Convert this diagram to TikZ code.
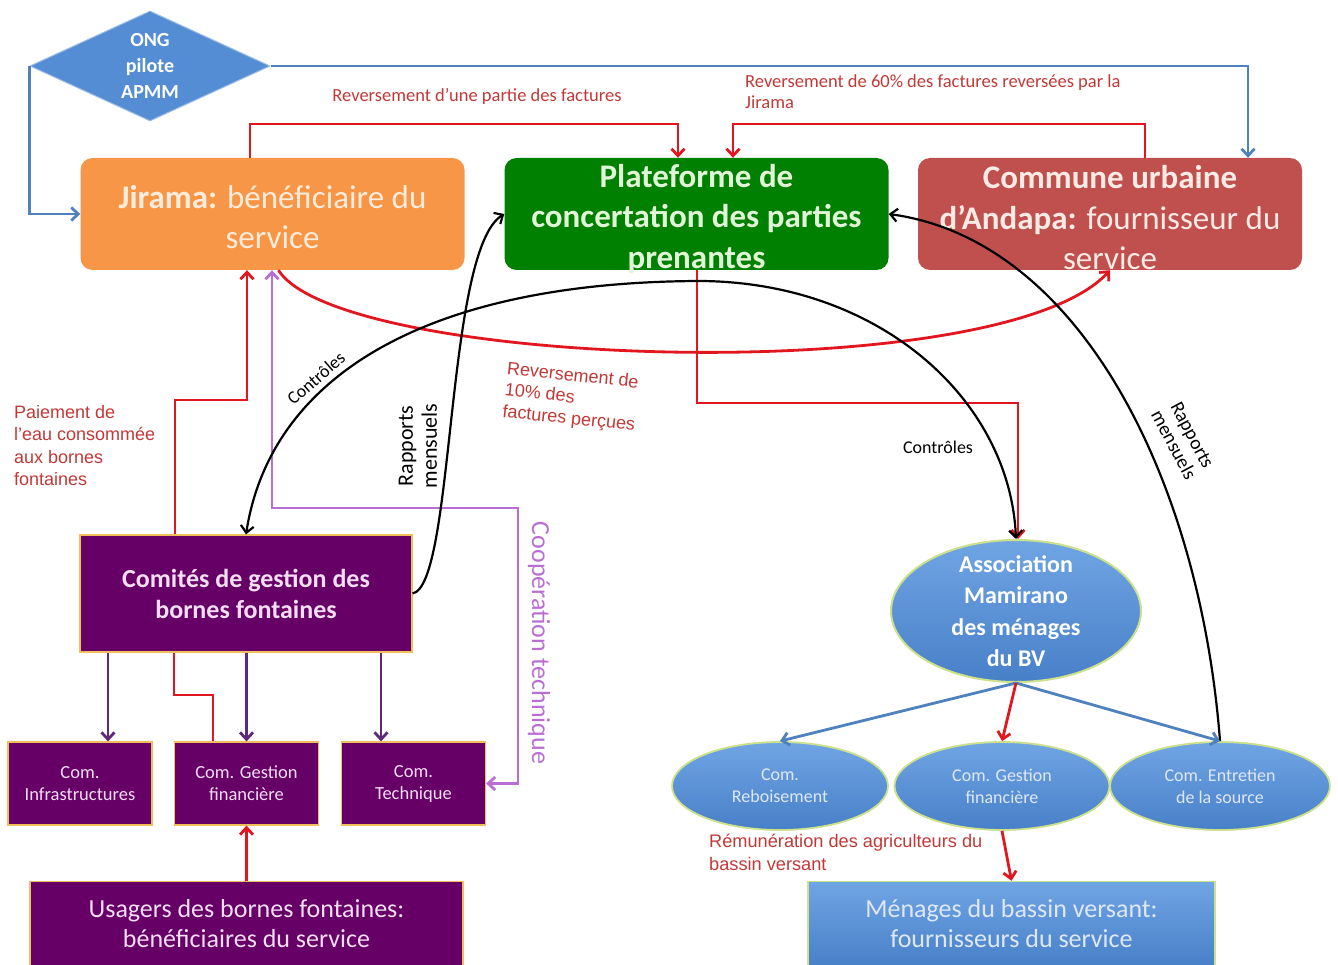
\documentclass[tikz,border=0pt]{standalone}
\usepackage{fontspec}
\setmainfont{Carlito}
\newfontfamily\arialf{Liberation Sans}
\usetikzlibrary{arrows.meta,shapes.geometric}
\definecolor{redl}{RGB}{226,22,30}
\definecolor{redtxt}{RGB}{192,57,55}
\definecolor{bluel}{RGB}{79,129,189}
\definecolor{purd}{RGB}{96,40,120}
\definecolor{purl}{RGB}{184,110,210}
\definecolor{jirf}{RGB}{247,150,70}
\definecolor{jirt}{RGB}{253,236,220}
\definecolor{platf}{RGB}{0,128,0}
\definecolor{platt}{RGB}{225,245,215}
\definecolor{comf}{RGB}{192,80,77}
\definecolor{comt}{RGB}{252,234,228}
\definecolor{purf}{RGB}{102,0,102}
\definecolor{purt}{RGB}{244,222,244}
\definecolor{blf}{RGB}{84,141,212}
\definecolor{bltop}{RGB}{112,165,228}
\definecolor{blbot}{RGB}{72,128,200}
\definecolor{blt}{RGB}{222,232,245}
\definecolor{ygb}{RGB}{205,225,140}
\definecolor{orb}{RGB}{240,190,90}
\newcommand{\fsz}[2]{\fontsize{#1}{#2}\selectfont}
\begin{document}
\begin{tikzpicture}[x=1pt,y=-1pt,
  tip/.style={-{Straight Barb[length=7pt,width=13pt]}},
  tips2/.style={{Straight Barb[length=7pt,width=13pt]}-{Straight Barb[length=7pt,width=13pt]}},
  rd/.style={draw=redl,line width=2.8pt},
  bl/.style={draw=bluel,line width=2.8pt},
  bk/.style={draw=black,line width=2.2pt},
  pd/.style={draw=purd,line width=2.8pt},
  pl/.style={draw=purl,line width=2.8pt},
  bigbox/.style={rounded corners=12pt,minimum width=384pt,minimum height=112pt,inner sep=0pt},
  bigtext/.style={inner sep=0pt,align=center,font=\fsz{33}{40.5}},
  purbox/.style={fill=purf,draw=orb,line width=1.2pt,inner sep=0pt,align=center,text=purt},
  smallbox/.style={purbox,minimum width=144pt,minimum height=83pt,font=\fsz{18.5}{22}},
  smallell/.style={ellipse,top color=bltop,bottom color=blbot,draw=ygb,line width=1.8pt,minimum height=88pt,inner sep=0pt,align=center,text=blt,font=\fsz{18}{22}},
  redlab/.style={text=redtxt,inner sep=0pt,align=left}
]
\useasboundingbox (0,0) rectangle (1338,965);

% boxes
\node[diamond,fill=blf,draw=blf!60!white,line width=1pt,minimum width=240pt,minimum height=110pt,inner sep=0pt,aspect=2.2,text=white,font=\fsz{20}{26}\bfseries,align=center] (ong) at (150,66) {ONG\\pilote\\APMM};
\node[bigbox,fill=jirf] (jir) at (272.5,214) {};
\node[bigtext,text=jirt] (jirt) at ([yshift=-3pt]jir.center) {\textbf{Jirama:} bénéficiaire du\\service};
\node[bigbox,fill=platf] (plat) at (696.5,214) {};
\node[bigtext,text=platt,font=\fsz{33}{40.5}\bfseries] (platt) at ([yshift=-5pt]plat.center) {Plateforme de\\concertation des parties\\prenantes};
\node[bigbox,fill=comf] (com) at (1110,214) {};
\node[bigtext,text=comt] (comt) at ([yshift=-4pt]com.center) {\textbf{Commune urbaine}\\\textbf{d’Andapa:} fournisseur du\\service};

\node[purbox,minimum width=332pt,minimum height=117pt,font=\fsz{26}{31}\bfseries] (comi) at (246,593.5) {Comités de gestion des\\bornes fontaines};
\node[smallbox] (infra) at (80,783.5) {Com.\\Infrastructures};
\node[smallbox] (gf) at (246.5,783.5) {Com. Gestion\\financière};
\node[smallbox] (tech) at (413.5,783.5) {Com.\\Technique};
\node[purbox,minimum width=433pt,minimum height=85pt,font=\fsz{26}{30}] (usa) at (246.5,924) {Usagers des bornes fontaines:\\bénéficiaires du service};

\node[ellipse,top color=bltop,bottom color=blbot,draw=ygb,line width=2pt,minimum width=250pt,minimum height=142pt,inner sep=0pt] (assoc) at (1016,611) {};
\node[text=white,font=\fsz{24}{31.5}\bfseries,align=center] (assoct) at (assoc.center) {Association\\Mamirano\\des ménages\\du BV};
\node[smallell,minimum width=216pt] (rebo) at (780,786) {Com.\\Reboisement};
\node[smallell,minimum width=215pt] (gfb) at (1002,786) {Com. Gestion\\financière};
\node[smallell,minimum width=220pt] (entr) at (1220,786) {Com. Entretien\\de la source};
\node[top color=bltop,bottom color=blbot,draw=ygb,line width=1.5pt,minimum width=407pt,minimum height=85pt,inner sep=0pt,align=center,text=blt,font=\fsz{26}{30}] (men) at (1011.5,924) {Ménages du bassin versant:\\fournisseurs du service};

% coordinates
\coordinate (cb) at (1248,0);
\coordinate (r1) at (250,124);
\coordinate (r2) at (678,124);
\coordinate (r3) at (1145,124);
\coordinate (r4) at (733,124);
\coordinate (p1) at (175,400);
\coordinate (p2) at (247,400);
\coordinate (q1) at (272,508);
\coordinate (q2) at (518,508);
\coordinate (s1) at (697,403);
\coordinate (s2) at (1018,403);
\coordinate (a1) at (108,700);
\coordinate (a3) at (381,700);
\coordinate (b1) at (213,695);
\coordinate (b2) at (174,695);

% blue
\draw[bl,tip] (ong.west) |- (jir.west);
\draw[bl,tip] (ong.east) -| (com.north -| cb);
% red top
\draw[rd,tip] (jir.north -| r1) |- (r2) -- (plat.north -| r2);
\draw[rd,tip] (com.north -| r3) |- (r4) -- (plat.north -| r4);
\node[redlab,font=\fsz{18.5}{21}] (l1) at (477,96) {Reversement d’une partie des factures};
\node[redlab,font=\fsz{18.5}{21},anchor=north west] (l2) at (745,74) {Reversement de 60\% des factures reversées par la\\Jirama};
% red curve 10%
\draw[rd,tip] ([xshift=6pt]jir.south) .. controls (340,368) and (1000,390) .. (com.south);
\node[redlab,font=\arialf\fsz{18}{21.5},rotate=-6] (l3) at (571,398) {Reversement de\\10\% des\\factures perçues};
% paiement
\draw[rd,tip] (comi.north -| p1) |- (p2) -- (jir.south -| p2);
\node[redlab,font=\arialf\fsz{18}{22.5},anchor=north west] (l4) at (14,405) {Paiement de\\l’eau consommée\\aux bornes\\fontaines};
% cooperation technique
\draw[pl,tips2] (jir.south -| q1) -- (q1) -- (q2) |- (tech.east);
\node[rotate=-90,font=\fsz{26}{28},text=purl] (l5) at (539,643) {Coopération technique};
% plateforme -> association
\draw[rd,tip] (plat.south -| s1) |- (s2) -- (assoc.north -| s2);
% controles arc
\draw[bk,tips2] (comi.north) .. controls (270,380) and (420,282) .. (700,281) .. controls (880,282) and (1010,400) .. (assoc.north);
\node[rotate=41,font=\fsz{18}{20}] (l6) at (316,378) {Contrôles};
\node[font=\fsz{18}{20}] (l7) at (938,447) {Contrôles};
% rapports mensuels
\draw[bk,tip] (comi.east) .. controls (455,585) and (445,250) .. (plat.west);
\node[rotate=90,font=\fsz{22}{24},align=center] (l8) at (418,446) {Rapports\\mensuels};
\draw[bk,tip] (entr.north) .. controls (1200,480) and (1080,240) .. (plat.east);
\node[rotate=-62,font=\fsz{19.5}{21},align=center] (l9) at (1183,440) {Rapports\\mensuels};
% association children
\draw[bl,tip] (assoc.south) -- (rebo.north);
\draw[bl,tip] (assoc.south) -- (entr.north);
\draw[rd,tip] (assoc.south) -- (gfb.north);
\draw[rd,tip] (gfb.south) -- (men.north);
\node[redlab,font=\arialf\fsz{18.2}{22.5},anchor=north west] (l10) at (709,834) {Rémunération des agriculteurs du\\bassin versant};
% comites children
\draw[pd,tip] (comi.south -| a1) -- (infra.north -| a1);
\draw[pd,tip] (comi.south -| gf) -- (gf.north);
\draw[pd,tip] (comi.south -| a3) -- (tech.north -| a3);
\draw[rd] (gf.north -| b1) |- (b2) -- (comi.south -| b2);
\draw[rd,tip] (usa.north) -- (gf.south);
\end{tikzpicture}
\end{document}
